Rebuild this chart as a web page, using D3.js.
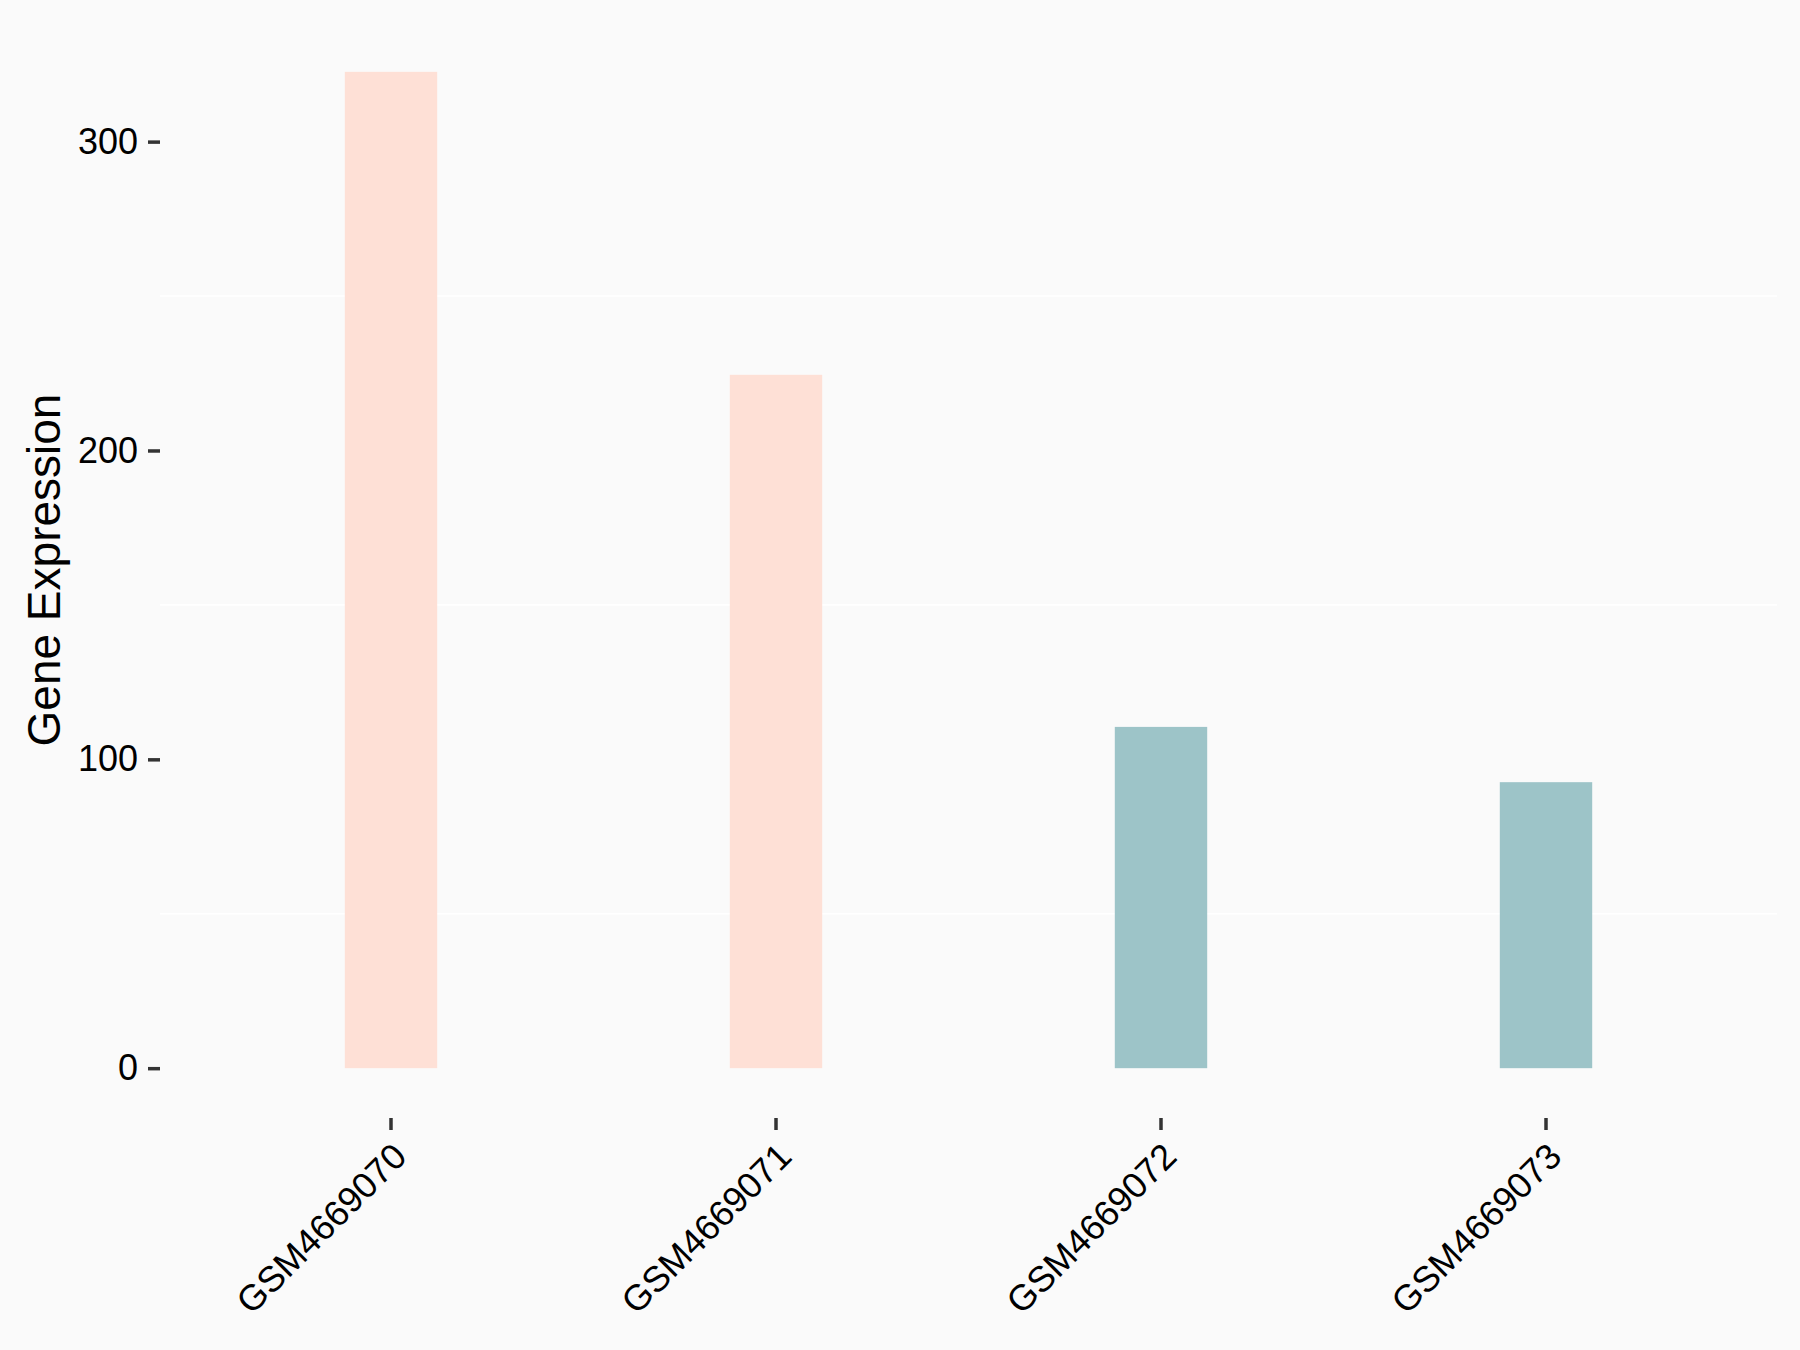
<!DOCTYPE html>
<html><head><meta charset="utf-8">
<script src="https://cdn.jsdelivr.net/npm/d3@7"></script>
<style>body{margin:0;background:#FAFAFA;} svg{display:block;}</style>
</head><body>
<script>
const categories = ["GSM4669070","GSM4669071","GSM4669072","GSM4669073"];
const values = [322.6, 224.5, 110.5, 92.6];
const groups = ["A","A","B","B"];
const yTicks = [0,100,200,300];
const minorTicks = [50,150,250];
const yTitle = "Gene Expression";

const W=1800,H=1350;
const panel={left:160,right:1777,top:22,bottom:1118};
const svg=d3.select("body").append("svg").attr("width",W).attr("height",H);
svg.append("rect").attr("width",W).attr("height",H).attr("fill","#FAFAFA");

const x=d3.scaleBand().domain(categories).range([panel.left,panel.right]).paddingOuter(0.1).paddingInner(0);
const step=x.step();
const maxV=d3.max(values);
const y=d3.scaleLinear().domain([-0.05*maxV,maxV*1.05]).range([panel.bottom,panel.top]);
const color=d3.scaleOrdinal().domain(["A","B"]).range(["#FEE0D6","#9DC4C8"]);
const barW=step*0.24;

svg.append("g").selectAll("line").data(minorTicks).join("line")
  .attr("x1",panel.left).attr("x2",panel.right)
  .attr("y1",d=>y(d)).attr("y2",d=>y(d))
  .attr("stroke","#FFFFFF").attr("stroke-width",1.6);

svg.append("g").selectAll("rect").data(values).join("rect")
  .attr("x",(d,i)=>x(categories[i])+step/2-barW/2)
  .attr("width",barW)
  .attr("y",d=>y(d)).attr("height",d=>y(0)-y(d))
  .attr("fill",(d,i)=>color(groups[i]));

const yAxis=svg.append("g").attr("transform",`translate(${panel.left},0)`)
  .call(d3.axisLeft(y).tickValues(yTicks).tickSize(12).tickPadding(10).tickFormat(d3.format("d")));
yAxis.select(".domain").remove();
yAxis.selectAll(".tick line").attr("stroke","#333333").attr("stroke-width",3.5);
yAxis.selectAll(".tick text").attr("fill","#000").attr("font-family","Liberation Sans, Arial, sans-serif").attr("font-size",36);

const xAxis=svg.append("g").attr("transform",`translate(0,${panel.bottom})`)
  .call(d3.axisBottom(x).tickSize(12).tickPadding(0));
xAxis.select(".domain").remove();
xAxis.selectAll(".tick line").attr("stroke","#333333").attr("stroke-width",3.5);
xAxis.selectAll(".tick text")
  .attr("fill","#000").attr("font-family","Liberation Sans, Arial, sans-serif").attr("font-size",36)
  .attr("text-anchor","end").attr("dy",null).attr("y",null)
  .attr("transform","translate(-1,22) rotate(-45)")
  .attr("dominant-baseline","hanging");

svg.append("text")
  .attr("transform",`translate(60,${(panel.top+panel.bottom)/2}) rotate(-90)`)
  .attr("text-anchor","middle")
  .attr("font-family","Liberation Sans, Arial, sans-serif").attr("font-size",46)
  .attr("fill","#000").text(yTitle);
</script>
</body></html>
